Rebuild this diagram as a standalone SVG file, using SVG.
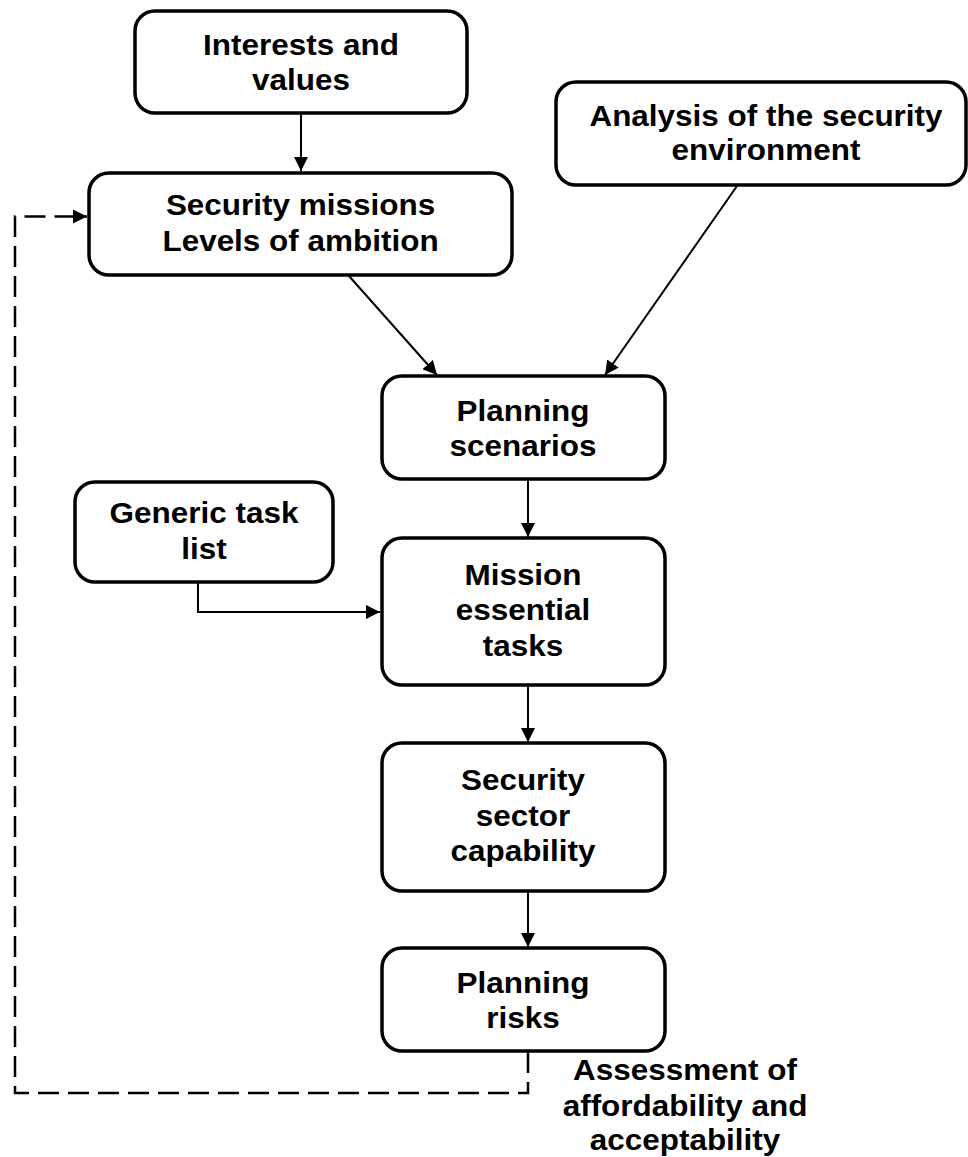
<svg xmlns="http://www.w3.org/2000/svg" width="968" height="1157" viewBox="0 0 968 1157">
  <defs>
    <marker id="arrow" markerUnits="userSpaceOnUse" markerWidth="15" markerHeight="14" refX="14" refY="7" orient="auto">
      <path d="M0,0 L14,7 L0,14 z" fill="#000"/>
    </marker>
    <style>
      .box { fill: #fff; stroke: #000; stroke-width: 3.5; }
      .lbl { font-family: "Liberation Sans", Arial, sans-serif; font-weight: bold; font-size: 29px; fill: #000; text-anchor: middle; }
      .link { fill: none; stroke: #000; stroke-width: 2; marker-end: url(#arrow); }
      .dash { stroke-width: 2.5; stroke-dasharray: 21 9; }
    </style>
  </defs>

  <rect width="968" height="1157" fill="#fff"/>

  <!-- connectors -->
  <g id="connectors">
    <line class="link" x1="301" y1="113" x2="301" y2="171"/>
    <line class="link" x1="349" y1="276" x2="437" y2="375"/>
    <line class="link" x1="737" y1="186" x2="605" y2="375"/>
    <line class="link" x1="528" y1="479" x2="528" y2="537"/>
    <path class="link" d="M198,582 V612 H380"/>
    <line class="link" x1="528" y1="685" x2="528" y2="742"/>
    <line class="link" x1="528" y1="891" x2="528" y2="947"/>
    <path class="link dash" d="M528,1052 V1093 H15 V216.5 H87"/>
  </g>

  <!-- nodes -->
  <g id="interests">
    <rect class="box" x="135" y="11" width="332" height="102" rx="20"/>
    <g transform="translate(301 0) scale(1.085 1)">
      <text class="lbl" x="0" y="55">Interests and</text>
      <text class="lbl" x="0" y="90">values</text>
    </g>
  </g>

  <g id="missions">
    <rect class="box" x="89" y="173" width="423" height="102" rx="20"/>
    <g transform="translate(300.5 0) scale(1.085 1)">
      <text class="lbl" x="0" y="215">Security missions</text>
      <text class="lbl" x="0" y="251.5">Levels of ambition</text>
    </g>
  </g>

  <g id="environment">
    <rect class="box" x="556" y="82" width="410" height="103" rx="20"/>
    <g transform="translate(766 0) scale(1.085 1)">
      <text class="lbl" x="0" y="126">Analysis of the security</text>
      <text class="lbl" x="0" y="160.5">environment</text>
    </g>
  </g>

  <g id="scenarios">
    <rect class="box" x="382" y="376" width="283" height="103" rx="20"/>
    <g transform="translate(523 0) scale(1.085 1)">
      <text class="lbl" x="0" y="421.5">Planning</text>
      <text class="lbl" x="0" y="456.5">scenarios</text>
    </g>
  </g>

  <g id="generic-tasks">
    <rect class="box" x="75" y="482" width="258" height="100" rx="20"/>
    <g transform="translate(204 0) scale(1.085 1)">
      <text class="lbl" x="0" y="523">Generic task</text>
      <text class="lbl" x="0" y="559">list</text>
    </g>
  </g>

  <g id="essential-tasks">
    <rect class="box" x="382" y="538" width="283" height="147" rx="20"/>
    <g transform="translate(523 0) scale(1.085 1)">
      <text class="lbl" x="0" y="585">Mission</text>
      <text class="lbl" x="0" y="620.5">essential</text>
      <text class="lbl" x="0" y="656">tasks</text>
    </g>
  </g>

  <g id="capability">
    <rect class="box" x="382" y="743" width="283" height="148" rx="20"/>
    <g transform="translate(523 0) scale(1.085 1)">
      <text class="lbl" x="0" y="790">Security</text>
      <text class="lbl" x="0" y="826.5">sector</text>
      <text class="lbl" x="0" y="861.5">capability</text>
    </g>
  </g>

  <g id="risks">
    <rect class="box" x="382" y="948" width="283" height="103" rx="20"/>
    <g transform="translate(523 0) scale(1.085 1)">
      <text class="lbl" x="0" y="993">Planning</text>
      <text class="lbl" x="0" y="1028">risks</text>
    </g>
  </g>

  <g id="assessment-label" transform="translate(685 0) scale(1.085 1)">
    <text class="lbl" x="0" y="1080">Assessment of</text>
    <text class="lbl" x="0" y="1116">affordability and</text>
    <text class="lbl" x="0" y="1150">acceptability</text>
  </g>
</svg>
